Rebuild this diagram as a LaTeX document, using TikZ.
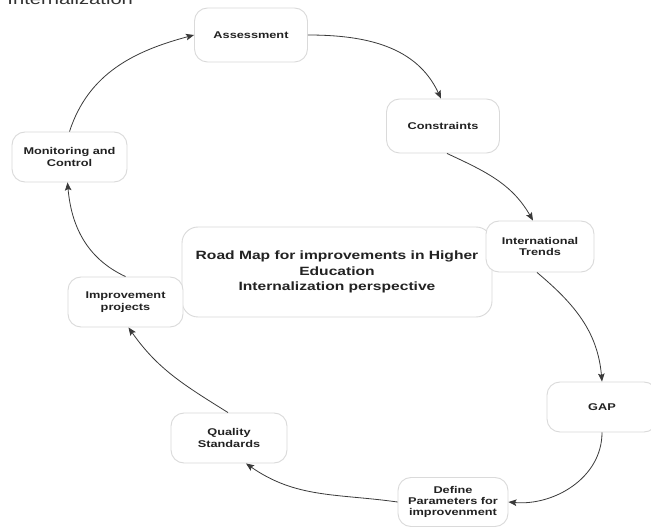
\documentclass[tikz,border=0pt]{standalone}
\usepackage{fontspec}
\newfontfamily\lblfont[FakeStretch=1.3]{Liberation Sans}
\usetikzlibrary{arrows.meta}
\definecolor{boxline}{HTML}{DADADA}
\definecolor{txt}{HTML}{222222}
\definecolor{arr}{HTML}{3A3A3A}
\tikzset{
  stepbox/.style={draw=boxline, line width=0.9pt, fill=white, rounded corners=13pt,
    align=center, text=txt, font=\lblfont\bfseries\fontsize{9.8}{11.3}\selectfont,
    inner sep=0pt},
  centerbox/.style={draw=boxline, line width=0.9pt, fill=white, rounded corners=16pt,
    align=center, text=txt, font=\lblfont\bfseries\fontsize{12}{15.5}\selectfont,
    inner sep=0pt},
  conn/.style={draw=arr, line width=0.8pt, -{Stealth[length=8pt,width=6.5pt,inset=1.5pt]}}
}
\begin{document}
\begin{tikzpicture}[x=1pt,y=-1pt]
\useasboundingbox (0,0) rectangle (651,529);
\clip (0,0) rectangle (651,529);
\fill[white] (0,0) rectangle (651,529);
% clipped caption at the top
\node[anchor=base west, inner sep=0pt, text=black!80, font=\lblfont\fontsize{15.5}{18}\selectfont] (cap) at (-5,4.5) {r Internalization};
% central box
\node[centerbox, minimum width=310pt, minimum height=90pt] (center) at (337,272) {Road Map for improvements in Higher\\Education\\Internalization perspective};
% step boxes
\node[stepbox, minimum width=113pt, minimum height=54pt] (assess) at (251,35) {Assessment};
\node[stepbox, minimum width=113pt, minimum height=54pt] (constr) at (443,126) {Constraints};
\node[stepbox, minimum width=108pt, minimum height=51pt] (trends) at (540,246.5) {International\\Trends};
\node[stepbox, minimum width=110pt, minimum height=50pt] (gap) at (602,407) {GAP};
\node[stepbox, minimum width=110pt, minimum height=49pt] (define) at (453,502) {Define\\Parameters for\\improvenment};
\node[stepbox, minimum width=116pt, minimum height=50pt] (quality) at (229,438) {Quality\\Standards};
\node[stepbox, minimum width=115pt, minimum height=50pt] (improve) at (125.5,302) {Improvement\\projects};
\node[stepbox, minimum width=115pt, minimum height=50pt] (monitor) at (69.5,157) {Monitoring and\\Control};
% connectors
\draw[conn] (assess.east) to[out=0, in=115] ([xshift=-2pt]constr.north);
\draw[conn] ([xshift=4pt]constr.south) to[out=-25, in=120] ([xshift=-7pt]trends.north);
\draw[conn] ([xshift=-3pt]trends.south) to[out=-40, in=95] (gap.north);
\draw[conn] (gap.south) to[out=-90, in=-5] (define.east);
\draw[conn] (define.west) to[out=172, in=-35] ([xshift=17pt]quality.south);
\draw[conn] ([xshift=-1pt]quality.north) to[out=148, in=-55] ([xshift=3pt]improve.south);
\draw[conn] (improve.north) to[out=155, in=-85] ([xshift=-2pt]monitor.south);
\draw[conn] (monitor.north) to[out=72, in=195] (assess.west);
\end{tikzpicture}
\end{document}
